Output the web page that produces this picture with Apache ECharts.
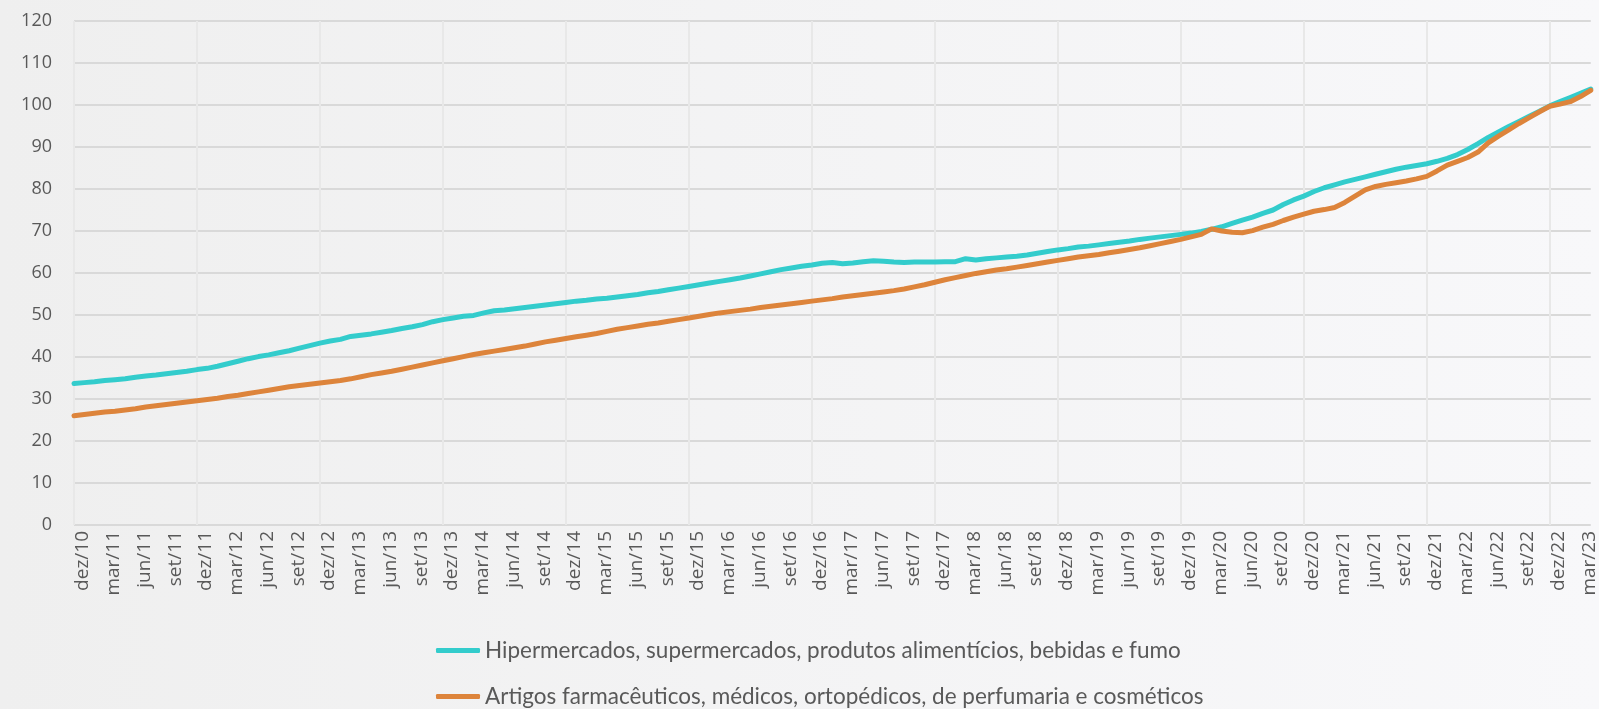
<!DOCTYPE html>
<html>
<head>
<meta charset="utf-8">
<script src="https://cdn.jsdelivr.net/npm/echarts@6/dist/echarts.min.js"></script>
<style>
html,body{margin:0;padding:0;}
#c{width:1599px;height:709px;}
</style>
</head>
<body>
<div id="c"></div>
<script>
const categories = [
 'dez/10',
 'jan/11','fev/11','mar/11','abr/11','mai/11','jun/11','jul/11','ago/11','set/11','out/11','nov/11','dez/11',
 'jan/12','fev/12','mar/12','abr/12','mai/12','jun/12','jul/12','ago/12','set/12','out/12','nov/12','dez/12',
 'jan/13','fev/13','mar/13','abr/13','mai/13','jun/13','jul/13','ago/13','set/13','out/13','nov/13','dez/13',
 'jan/14','fev/14','mar/14','abr/14','mai/14','jun/14','jul/14','ago/14','set/14','out/14','nov/14','dez/14',
 'jan/15','fev/15','mar/15','abr/15','mai/15','jun/15','jul/15','ago/15','set/15','out/15','nov/15','dez/15',
 'jan/16','fev/16','mar/16','abr/16','mai/16','jun/16','jul/16','ago/16','set/16','out/16','nov/16','dez/16',
 'jan/17','fev/17','mar/17','abr/17','mai/17','jun/17','jul/17','ago/17','set/17','out/17','nov/17','dez/17',
 'jan/18','fev/18','mar/18','abr/18','mai/18','jun/18','jul/18','ago/18','set/18','out/18','nov/18','dez/18',
 'jan/19','fev/19','mar/19','abr/19','mai/19','jun/19','jul/19','ago/19','set/19','out/19','nov/19','dez/19',
 'jan/20','fev/20','mar/20','abr/20','mai/20','jun/20','jul/20','ago/20','set/20','out/20','nov/20','dez/20',
 'jan/21','fev/21','mar/21','abr/21','mai/21','jun/21','jul/21','ago/21','set/21','out/21','nov/21','dez/21',
 'jan/22','fev/22','mar/22','abr/22','mai/22','jun/22','jul/22','ago/22','set/22','out/22','nov/22','dez/22',
 'jan/23','fev/23','mar/23','abr/23'
];

const seriesNames = [
 'Hipermercados, supermercados, produtos alimentícios, bebidas e fumo',
 'Artigos farmacêuticos, médicos, ortopédicos, de perfumaria e cosméticos'
];

const hiper = [
 33.7,
 33.9,34.1,34.4,34.6,34.8,35.2,35.5,35.7,36.0,36.3,36.6,37.0,
 37.3,37.8,38.4,39.0,39.6,40.1,40.5,41.0,41.5,42.1,42.7,43.3,
 43.8,44.2,44.9,45.2,45.5,45.9,46.3,46.8,47.2,47.7,48.4,48.9,
 49.3,49.7,49.9,50.5,51.0,51.2,51.5,51.8,52.1,52.4,52.7,53.0,
 53.3,53.5,53.8,54.0,54.3,54.6,54.9,55.3,55.6,56.0,56.4,56.8,
 57.2,57.6,58.0,58.4,58.8,59.3,59.8,60.3,60.8,61.2,61.6,61.9,
 62.3,62.5,62.2,62.4,62.7,62.9,62.8,62.6,62.5,62.6,62.6,62.6,
 62.7,62.7,63.4,63.1,63.4,63.6,63.8,64.0,64.3,64.7,65.1,65.5,
 65.8,66.2,66.4,66.7,67.0,67.3,67.6,68.0,68.3,68.6,68.9,69.2,
 69.5,69.9,70.4,71.0,71.8,72.6,73.3,74.2,75.0,76.3,77.4,78.3,
 79.4,80.3,81.0,81.7,82.3,82.9,83.5,84.1,84.7,85.2,85.6,86.0,
 86.6,87.3,88.2,89.4,90.8,92.3,93.6,94.9,96.1,97.3,98.5,99.8,
 100.8,101.8,102.8,103.8
];

const farma = [
 26.0,
 26.3,26.6,26.9,27.1,27.4,27.7,28.1,28.4,28.7,29.0,29.3,29.6,
 29.9,30.2,30.6,30.9,31.3,31.7,32.1,32.5,32.9,33.2,33.5,33.8,
 34.1,34.4,34.8,35.3,35.8,36.2,36.6,37.1,37.6,38.1,38.6,39.1,
 39.6,40.1,40.6,41.0,41.4,41.8,42.2,42.6,43.1,43.6,44.0,44.4,
 44.8,45.2,45.6,46.1,46.6,47.0,47.4,47.8,48.1,48.5,48.9,49.3,
 49.7,50.1,50.5,50.8,51.1,51.4,51.8,52.1,52.4,52.7,53.0,53.3,
 53.6,53.9,54.3,54.6,54.9,55.2,55.5,55.8,56.2,56.7,57.2,57.8,
 58.4,58.9,59.4,59.9,60.3,60.7,61.0,61.4,61.8,62.2,62.6,63.0,
 63.4,63.8,64.1,64.4,64.8,65.2,65.6,66.0,66.5,67.0,67.5,68.0,
 68.6,69.2,70.5,70.0,69.7,69.6,70.1,70.9,71.6,72.5,73.3,74.0,
 74.7,75.1,75.6,76.8,78.3,79.8,80.6,81.1,81.5,81.9,82.4,83.0,
 84.3,85.7,86.6,87.5,88.8,91.0,92.6,94.1,95.6,97.0,98.4,99.7,
 100.2,100.8,102.0,103.5
];

const yMin = 0, yMax = 120, yStep = 10;

const legendText = {fontSize: 22.5, fontFamily: 'Lato', color: '#595959'};
function legendBox(name, top) {
  return {
    data: [name], orient: 'horizontal', left: 431, top: top,
    itemWidth: 44, itemHeight: 5, icon: 'roundRect',
    textStyle: legendText
  };
}

const chart = echarts.init(document.getElementById('c'), null, {renderer: 'canvas'});
chart.setOption({
  animation: false,
  backgroundColor: {
    type: 'linear', x: 0, y: 0, x2: 1, y2: 0,
    colorStops: [{offset: 0, color: '#efefef'}, {offset: 1, color: '#f8f8fa'}]
  },
  grid: {left: 74, right: 7, top: 21, bottom: 184, containLabel: false},
  legend: [legendBox(seriesNames[0], 634), legendBox(seriesNames[1], 680)],
  xAxis: {
    type: 'category',
    data: categories,
    boundaryGap: false,
    z: 1,
    axisLine: {show: false},
    axisTick: {show: false},
    axisLabel: {
      interval: 2,
      rotate: 90,
      fontSize: 19,
      fontFamily: 'Open Sans',
      color: '#595959',
      margin: 6,
      verticalAlign: 'top',
      lineHeight: 18
    },
    splitLine: {show: true, interval: 11, lineStyle: {color: '#e8e8e8', width: 2}}
  },
  yAxis: {
    type: 'value',
    min: yMin, max: yMax, interval: yStep,
    axisLine: {show: false},
    axisTick: {show: false},
    axisLabel: {fontSize: 18, fontFamily: 'Open Sans', color: '#595959', margin: 22},
    splitLine: {show: true, lineStyle: {color: '#d9d9d9', width: 2}}
  },
  series: [
    {
      name: seriesNames[0], type: 'line', data: hiper, showSymbol: false,
      color: '#33cccc',
      lineStyle: {color: '#33cccc', width: 5, join: 'round', cap: 'round'}
    },
    {
      name: seriesNames[1], type: 'line', data: farma, showSymbol: false,
      color: '#dd843b',
      lineStyle: {color: '#dd843b', width: 5, join: 'round', cap: 'round'}
    }
  ]
});
</script>
</body>
</html>
